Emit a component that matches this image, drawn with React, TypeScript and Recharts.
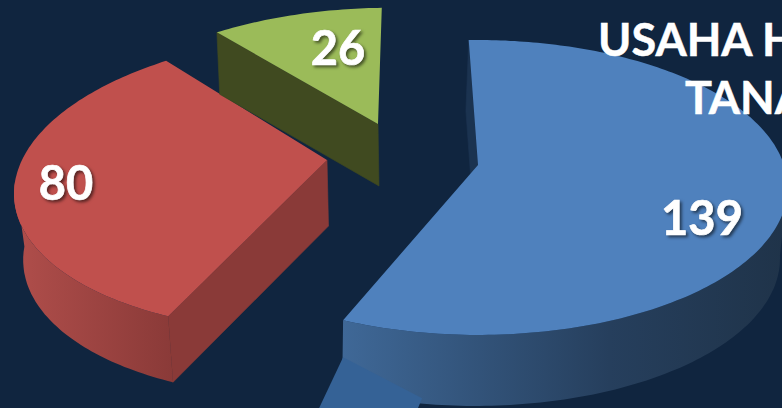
import { Pie, PieChart } from 'recharts';

const sliceNames = ['biru', 'merah', 'hijau'];
const sliceValues = [139, 80, 26];
const titleLines = ['USAHA HUTAN', 'TANAMAN'];

const chartData = sliceNames.map((name, i) => ({ name, value: sliceValues[i] }));

const FONT = 'Lato, Carlito, sans-serif';
const PERSPECTIVE = 0.1525;

// each exploded slice has its own apex and foreshortening on the tilted plane
const sliceViews = [
  { x: 478, y: 165, a: 306, b: 144, shear: 0, depth: 71, baseX: 0.985, baseShift: -3, top: '#4f81bd', wall: '#1b3350', labelDx: 224, labelDy: 52 },
  { x: 327, y: 160, a: 305, b: 145, shear: -0.156, depth: 66, baseX: 0.975, baseShift: 1.5, top: '#c0504d', wall: '#8a3a38', labelDx: -261, labelDy: 22 },
  { x: 378, y: 124, a: 296, b: 134, shear: -0.11, depth: 62, baseX: 0.99, baseShift: 1, top: '#9bbb59', wall: '#404a20', labelDx: -40, labelDy: -77 },
];

type View = (typeof sliceViews)[number];

const rad = (deg: number) => (deg * Math.PI) / 180;

// tilted pie plane -> screen; the base ring is the same circle moved down by the depth
function project(view: View, deg: number, onBase = false) {
  const u = Math.cos(rad(deg));
  const v = -Math.sin(rad(deg));
  const w = 1 - PERSPECTIVE * v;
  const sy = (view.b * v) / w;
  const sx = ((onBase ? view.a * view.baseX : view.a) * u) / w + view.shear * sy;
  return onBase
    ? [view.x + view.baseShift + sx, view.y + view.depth + sy]
    : [view.x + sx, view.y + sy];
}

const toPath = (pts: number[][]) =>
  'M' + pts.map((p) => `${p[0].toFixed(1)},${p[1].toFixed(1)}`).join('L') + 'Z';

function sweep(start: number, end: number) {
  const steps = Math.max(2, Math.ceil(Math.abs(end - start)));
  const out: number[] = [];
  for (let i = 0; i <= steps; i++) out.push(start + ((end - start) * i) / steps);
  return out;
}

function Slice3D(props: any) {
  const { startAngle, endAngle, index } = props;
  const view = sliceViews[index];
  const apex = [view.x, view.y];
  const apexBase = [view.x + view.baseShift, view.y + view.depth];
  const angles = sweep(startAngle, endAngle);
  const gradientId = `wall-${index}`;

  // only the front of the rim shows, it stops at the widest point of the ellipse
  const front = angles.filter((d) => Math.sin(rad(d)) <= -0.13);
  const rim = front.length
    ? toPath([
        ...front.map((d) => project(view, d)),
        ...front.slice().reverse().map((d) => project(view, d, true)),
      ])
    : null;

  const cutFace = toPath([apex, project(view, startAngle), project(view, startAngle, true), apexBase]);
  const topFace = toPath([apex, ...angles.map((d) => project(view, d))]);
  const corner = project(view, endAngle);

  return (
    <g>
      <defs>
        <linearGradient id="wall-0" x1="0" x2="1" y1="0" y2="0">
          <stop offset="0" stopColor="#3f6897" />
          <stop offset="0.6" stopColor="#263f5d" />
          <stop offset="1" stopColor="#1f3349" />
        </linearGradient>
        <linearGradient id="wall-1" x1="0" x2="1" y1="0" y2="0">
          <stop offset="0" stopColor="#b04e4b" />
          <stop offset="1" stopColor="#8a3a38" />
        </linearGradient>
      </defs>
      {rim && <path d={rim} fill={`url(#${gradientId})`} />}
      <path d={cutFace} fill={view.wall} stroke={view.wall} strokeWidth={0.6} />
      {index === 0 && (
        <path
          d={toPath([
            [corner[0], corner[1] + 37],
            [corner[0] + 79, corner[1] + 78],
            [corner[0] + 74, corner[1] + 90],
            [corner[0] - 25, corner[1] + 90],
          ])}
          fill="#356296"
        />
      )}
      <path d={topFace} fill={view.top} />
    </g>
  );
}

function ValueLabel(props: any) {
  const { index, value } = props;
  const view = sliceViews[index];
  return (
    <text
      x={view.x + view.labelDx}
      y={view.y + view.labelDy}
      textAnchor="middle"
      dominantBaseline="central"
      fill="#fff"
      stroke="#fff"
      strokeWidth={0.7}
      fontFamily={FONT}
      fontWeight={700}
      fontSize={47}
      style={{ filter: 'drop-shadow(2px 2px 1.5px rgba(0,0,0,0.55))' }}
    >
      {value}
    </text>
  );
}

export default function App() {
  return (
    <div style={{ position: 'absolute', left: 0, top: 0, width: 782, height: 408, overflow: 'hidden', background: '#10253f' }}>
      <PieChart width={782} height={408} margin={{ top: 0, right: 0, bottom: 0, left: 0 }}>
        <Pie
          data={chartData}
          dataKey="value"
          nameKey="name"
          cx={391}
          cy={204}
          outerRadius={200}
          startAngle={92}
          endAngle={-268}
          stroke="none"
          shape={Slice3D}
          inactiveShape={Slice3D}
          activeShape={Slice3D}
          label={ValueLabel}
          labelLine={false}
          isAnimationActive={false}
        />
      </PieChart>
      {/* the heading sits over the blue slice, so it gets its own layer */}
      <svg width={782} height={408} style={{ position: 'absolute', left: 0, top: 0 }}>
        <text x={598} y={56} fill="#fff" stroke="#fff" strokeWidth={0.5} fontFamily={FONT} fontWeight={700} fontSize={45}>
          {titleLines[0]}
        </text>
        <text x={685} y={114} fill="#fff" stroke="#fff" strokeWidth={0.5} fontFamily={FONT} fontWeight={700} fontSize={45}>
          {titleLines[1]}
        </text>
      </svg>
    </div>
  );
}
